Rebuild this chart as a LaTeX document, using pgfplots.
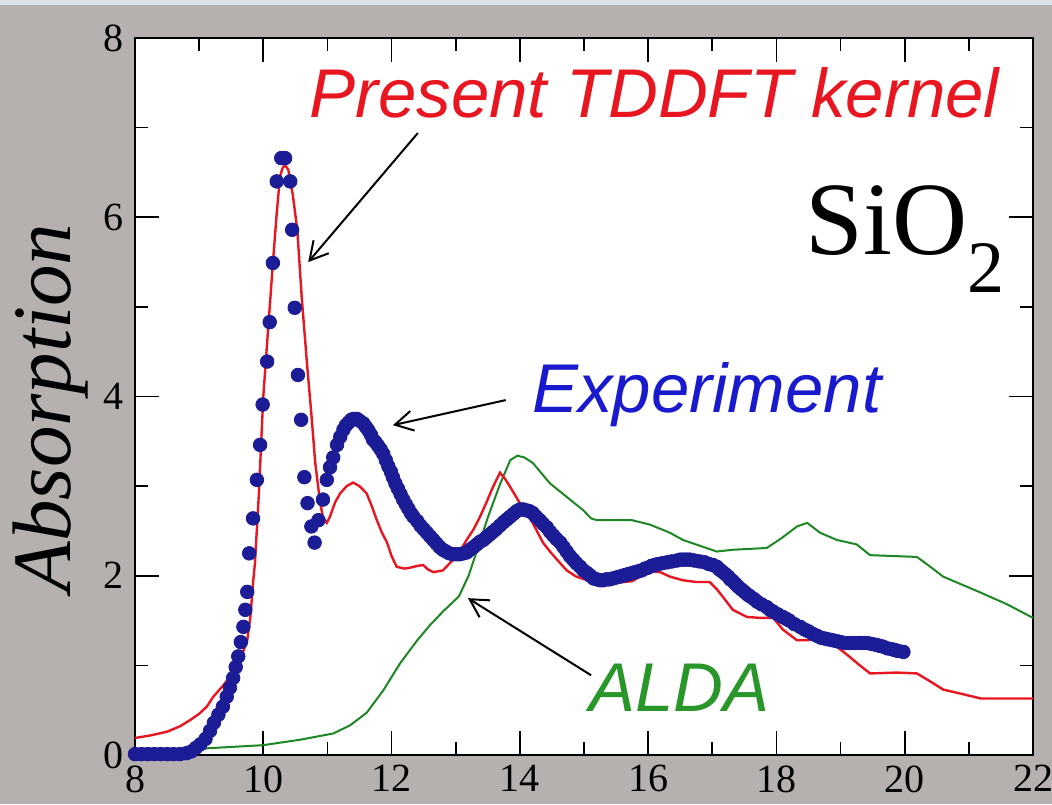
\documentclass[border=0pt]{standalone}
\usepackage{fontspec}
\setmainfont{Liberation Serif}
\newfontfamily\helv{Liberation Sans}
\usepackage{pgfplots}
\pgfplotsset{compat=1.18}
\usetikzlibrary{arrows.meta}

\definecolor{bggray}{RGB}{182,176,174}
\definecolor{topband}{RGB}{222,227,234}
\definecolor{expblue}{RGB}{28,28,150}
\definecolor{kred}{RGB}{232,22,32}
\definecolor{aldagreen}{RGB}{30,135,35}
\definecolor{txtblue}{RGB}{25,25,205}
\definecolor{txtgreen}{RGB}{40,150,40}

\begin{document}
\begin{tikzpicture}
% grey page round the plot (1 px of the reference = 0.5pt)
\fill[bggray] (-67.5pt,-24.5pt) rectangle (458.5pt,377.5pt);
\fill[topband] (-67.5pt,375pt) rectangle (458.5pt,377.5pt);

\begin{axis}[
  at={(0,0)}, anchor=south west,
  scale only axis, width=449pt, height=358.5pt,
  xmin=8, xmax=22, ymin=0, ymax=8,
  xtick={8,10,...,22}, ytick={0,2,...,8},
  minor x tick num=1, minor y tick num=1,
  tick align=inside,
  major tick length=12pt, minor tick length=6.5pt,
  tick style={black, line width=0.8pt},
  axis line style={line width=1pt},
  axis background/.style={fill=white},
  /pgf/number format/assume math mode=true,
  ticklabel style={font=\fontsize{20}{20}\selectfont, inner sep=0pt},
  xticklabel style={yshift=-5pt},
  yticklabel style={xshift=-5.5pt},
  clip=false,
]
% Experiment
\addplot[only marks, mark=*, mark size=3.4pt, color=expblue] coordinates {
  (8.00,0.01)(8.10,0.01)(8.20,0.01)(8.30,0.01)(8.40,0.01)(8.50,0.01)
  (8.60,0.01)(8.70,0.01)(8.80,0.02)(8.88,0.04)(8.95,0.08)(9.02,0.12)
  (9.10,0.18)(9.17,0.27)(9.23,0.36)(9.30,0.45)(9.37,0.54)(9.43,0.65)
  (9.48,0.75)(9.53,0.86)(9.57,0.98)(9.61,1.10)(9.65,1.26)(9.69,1.43)
  (9.72,1.62)(9.75,1.82)(9.78,2.25)(9.84,2.64)(9.90,3.07)(9.95,3.46)
  (9.99,3.91)(10.06,4.39)(10.10,4.83)(10.15,5.49)(10.21,6.40)(10.28,6.66)
  (10.34,6.66)(10.42,6.40)(10.45,5.86)(10.49,4.99)(10.54,4.24)(10.59,3.74)
  (10.64,3.10)(10.69,2.81)(10.75,2.55)(10.80,2.37)(10.86,2.62)(10.93,2.85)
  (10.99,3.07)(11.04,3.21)(11.09,3.32)(11.15,3.46)(11.20,3.55)(11.25,3.63)
  (11.29,3.68)(11.33,3.71)(11.37,3.74)(11.41,3.75)(11.46,3.75)(11.50,3.73)
  (11.56,3.70)(11.60,3.66)(11.64,3.62)(11.68,3.57)(11.71,3.52)(11.75,3.49)
  (11.79,3.45)(11.83,3.41)(11.87,3.36)(11.91,3.29)(11.95,3.22)(11.99,3.16)
  (12.02,3.10)(12.06,3.03)(12.10,2.97)(12.14,2.91)(12.18,2.85)(12.22,2.80)
  (12.26,2.75)(12.30,2.70)(12.34,2.66)(12.40,2.61)(12.45,2.56)(12.50,2.52)
  (12.55,2.48)(12.60,2.44)(12.65,2.40)(12.70,2.36)(12.75,2.32)(12.80,2.29)
  (12.85,2.27)(12.90,2.25)(12.96,2.24)(13.01,2.24)(13.06,2.24)(13.12,2.25)
  (13.17,2.26)(13.22,2.29)(13.28,2.32)(13.33,2.35)(13.38,2.38)(13.43,2.40)
  (13.48,2.43)(13.53,2.46)(13.58,2.49)(13.63,2.52)(13.69,2.56)(13.75,2.60)
  (13.80,2.63)(13.85,2.66)(13.90,2.69)(13.95,2.72)(14.00,2.74)(14.05,2.74)
  (14.10,2.73)(14.15,2.72)(14.20,2.70)(14.25,2.66)(14.31,2.62)(14.36,2.58)
  (14.42,2.54)(14.47,2.49)(14.52,2.45)(14.57,2.41)(14.63,2.37)(14.68,2.32)
  (14.73,2.27)(14.78,2.22)(14.83,2.18)(14.88,2.14)(14.94,2.10)(14.99,2.06)
  (15.05,2.03)(15.10,2.00)(15.15,1.97)(15.20,1.96)(15.25,1.95)(15.30,1.95)
  (15.35,1.96)(15.40,1.96)(15.45,1.97)(15.50,1.98)(15.55,1.99)(15.60,2.00)
  (15.65,2.01)(15.70,2.02)(15.75,2.03)(15.80,2.04)(15.85,2.05)(15.90,2.06)
  (15.95,2.08)(16.00,2.09)(16.05,2.11)(16.10,2.12)(16.15,2.13)(16.22,2.14)
  (16.30,2.15)(16.37,2.16)(16.45,2.17)(16.50,2.18)(16.55,2.18)(16.60,2.18)
  (16.65,2.18)(16.72,2.17)(16.80,2.16)(16.88,2.15)(16.95,2.13)(17.01,2.12)
  (17.07,2.10)(17.11,2.07)(17.15,2.05)(17.20,2.02)(17.25,1.99)(17.28,1.96)
  (17.32,1.94)(17.36,1.91)(17.40,1.88)(17.45,1.85)(17.50,1.82)(17.55,1.79)
  (17.59,1.77)(17.65,1.74)(17.70,1.71)(17.77,1.68)(17.85,1.65)(17.90,1.62)
  (17.95,1.60)(18.02,1.57)(18.10,1.54)(18.15,1.52)(18.20,1.50)(18.28,1.46)
  (18.37,1.43)(18.44,1.40)(18.50,1.38)(18.57,1.35)(18.63,1.33)(18.69,1.31)
  (18.75,1.30)(18.81,1.29)(18.88,1.28)(18.94,1.27)(19.00,1.26)(19.07,1.25)
  (19.15,1.25)(19.22,1.25)(19.30,1.25)(19.36,1.25)(19.41,1.25)(19.48,1.24)
  (19.55,1.23)(19.60,1.22)(19.66,1.21)(19.73,1.19)(19.80,1.18)(19.85,1.17)
  (19.90,1.16)(19.98,1.15)};
% ALDA
\addplot[aldagreen, line width=1pt] coordinates {
  (8.00,0.01)(8.50,0.02)(8.90,0.05)(9.00,0.07)(9.50,0.09)(10.00,0.11)
  (10.57,0.17)(11.09,0.24)(11.35,0.33)(11.61,0.47)(11.87,0.72)(12.13,1.02)
  (12.40,1.28)(12.60,1.45)(12.80,1.60)(13.05,1.77)(13.20,2.00)(13.35,2.32)
  (13.50,2.65)(13.69,3.02)(13.85,3.29)(13.96,3.34)(14.07,3.32)(14.20,3.26)
  (14.47,3.03)(14.73,2.88)(14.99,2.73)(15.11,2.64)(15.20,2.62)(15.75,2.62)
  (16.03,2.57)(16.34,2.48)(16.54,2.40)(17.07,2.27)(17.32,2.29)(17.85,2.31)
  (18.10,2.43)(18.32,2.55)(18.48,2.59)(18.68,2.48)(18.94,2.40)(19.25,2.35)
  (19.46,2.23)(20.19,2.21)(20.40,2.10)(20.60,1.99)(21.19,1.81)(21.60,1.68)
  (22.00,1.53)};
% present TDDFT kernel
\addplot[kred, line width=1.2pt] coordinates {
  (8.00,0.19)(8.25,0.22)(8.50,0.26)(8.70,0.32)(8.86,0.39)(9.00,0.46)
  (9.12,0.54)(9.22,0.65)(9.38,0.78)(9.53,0.92)(9.65,1.08)(9.75,1.28)
  (9.80,1.55)(9.84,1.92)(9.87,2.14)(9.93,2.90)(10.00,4.00)(10.08,4.80)
  (10.15,5.49)(10.21,6.05)(10.26,6.45)(10.30,6.55)(10.34,6.58)(10.39,6.53)
  (10.46,6.25)(10.53,5.86)(10.60,5.10)(10.68,4.38)(10.75,3.80)(10.81,3.26)
  (10.88,2.85)(10.93,2.65)(10.99,2.59)(11.04,2.66)(11.12,2.82)(11.20,2.92)
  (11.30,3.00)(11.40,3.04)(11.50,3.00)(11.61,2.92)(11.69,2.78)(11.77,2.62)
  (11.85,2.48)(11.93,2.37)(12.00,2.22)(12.08,2.10)(12.20,2.08)(12.29,2.09)
  (12.40,2.11)(12.49,2.12)(12.57,2.07)(12.65,2.04)(12.80,2.06)(12.96,2.18)
  (13.07,2.28)(13.17,2.40)(13.28,2.52)(13.38,2.66)(13.48,2.82)(13.58,2.99)
  (13.69,3.15)(13.77,3.08)(13.85,2.99)(14.00,2.81)(14.10,2.70)(14.20,2.59)
  (14.28,2.48)(14.36,2.37)(14.47,2.27)(14.58,2.18)(14.73,2.06)(14.88,1.99)
  (15.05,1.95)(15.25,1.91)(15.50,1.92)(15.75,1.94)(15.90,2.00)(16.03,2.05)
  (16.19,2.04)(16.34,1.99)(16.54,1.95)(16.75,1.93)(16.96,1.93)(17.07,1.85)
  (17.17,1.76)(17.32,1.62)(17.54,1.54)(17.75,1.53)(17.95,1.53)(18.10,1.40)
  (18.32,1.28)(18.48,1.28)(18.63,1.32)(18.80,1.26)(18.94,1.21)(19.15,1.09)
  (19.30,1.00)(19.46,0.91)(19.88,0.92)(20.19,0.91)(20.40,0.82)(20.60,0.73)
  (20.90,0.68)(21.19,0.63)(22.00,0.63)};

% labels and arrows
\node[anchor=base west, inner sep=0pt, text=kred, font=\helv\itshape\fontsize{34.5}{34.5}\selectfont]
  at (axis cs:10.71,7.11) {Present TDDFT kernel};
\node[anchor=base west, inner sep=0pt, text=txtblue, font=\helv\itshape\fontsize{34.5}{34.5}\selectfont]
  at (axis cs:14.19,3.82) {Experiment};
\node[anchor=base west, inner sep=0pt, text=txtgreen, font=\helv\itshape\fontsize{34.5}{34.5}\selectfont]
  at (axis cs:15.08,0.48) {ALDA};
\node[anchor=base west, inner sep=0pt, font=\fontsize{52}{52}\selectfont]
  at (axis cs:18.45,5.58) {SiO\raisebox{-19pt}{\fontsize{37}{37}\selectfont 2}};
\draw[line width=1pt, -{Straight Barb[length=9pt,width=10pt]}] (axis cs:12.41,6.94) -- (axis cs:10.70,5.50);
\draw[line width=1pt, -{Straight Barb[length=9pt,width=10pt]}] (axis cs:13.78,3.96) -- (axis cs:12.02,3.68);
\draw[line width=1pt, -{Straight Barb[length=9pt,width=10pt]}] (axis cs:15.11,0.89) -- (axis cs:13.19,1.75);
\end{axis}

\node[rotate=90, anchor=base, inner sep=0pt, font=\itshape\fontsize{41.5}{41.5}\selectfont]
  at (-32.5pt,173.5pt) {Absorption};

\pgfresetboundingbox
\useasboundingbox (-67.5pt,-24.5pt) rectangle (458.5pt,377.5pt);
\end{tikzpicture}
\end{document}
